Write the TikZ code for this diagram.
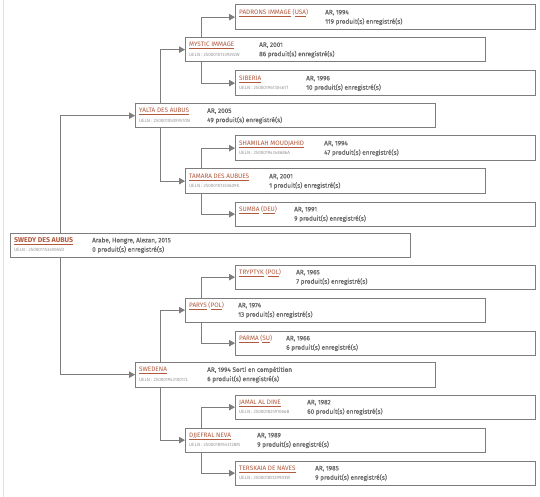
\documentclass[tikz,border=0pt]{standalone}
\usepackage{fontspec}
\setmainfont{Fira Sans}
\newfontfamily\infofont[FakeBold=0.9]{Fira Sans}
\usetikzlibrary{arrows.meta,calc}

\definecolor{namec}{RGB}{178,88,60}
\definecolor{infoc}{RGB}{105,105,105}
\definecolor{uelnc}{RGB}{150,150,150}
\definecolor{linec}{RGB}{125,125,125}

\newcommand\lnk[1]{\underline{#1}}
\newcommand\ueln[1]{{\color{uelnc}\fontsize{4.6}{5}\selectfont UELN : #1}}

% #1 node, #2/#3 top left, #4 width, #5 info column, #6 name, #7 ueln, #8/#9 info lines
\newcommand\horse[9]{%
  \node[hbox,minimum width=#4] (#1) at (#2,#3) {};
  \node[htext] (#1-t) at ([xshift=4pt]#1.west)
    {\begin{tabular}{@{}l@{}l@{}}\makebox[#5pt][l]{\color{namec}#6} & \infofont #8\\
      \makebox[#5pt][l]{#7} & \infofont #9\end{tabular}};
}

\begin{document}
\begin{tikzpicture}[
  x=1pt,y=-1pt,
  hbox/.style={rectangle,draw=linec,line width=0.8pt,anchor=north west,
    minimum height=24.5pt,inner sep=0pt},
  htext/.style={anchor=west,inner sep=0pt,text=infoc,
    font=\fontsize{6.4}{9.3}\selectfont},
  ar/.style={-{Triangle[length=6pt,width=6.5pt]},draw=linec,line width=0.8pt}
]
\useasboundingbox (0,0) rectangle (540,497);
\draw[black!12,line width=0.8pt] (3,0) -- (3,497);

\horse{swedy}{10}{232.5}{400pt}{78}{\textbf{\fontsize{7}{9}\selectfont\lnk{SWEDY DES AUBUS}}}%
  {\ueln{25000115349065D}}{Arabe, Hongre, Alezan, 2015}{0 produit(s) enregistré(s)}

% lignée paternelle
\horse{yalta}{135}{103}{300pt}{68}{\lnk{YALTA DES AUBUS}}%
  {\ueln{25000105099570N}}{AR, 2005}{49 produit(s) enregistré(s)}
\horse{mystic}{185}{37}{300pt}{70}{\lnk{MYSTIC IMMAGE}}%
  {\ueln{25000101339392W}}{AR, 2001}{86 produit(s) enregistré(s)}
\horse{padrons}{235}{4.5}{300pt}{86}{\lnk{PADRONS IMMAGE} (\lnk{USA})}%
  {}{AR, 1994}{119 produit(s) enregistré(s)}
\horse{siberia}{235}{70.5}{300pt}{67}{\lnk{SIBERIA}}%
  {\ueln{25000196730461T}}{AR, 1996}{10 produit(s) enregistré(s)}
\horse{tamara}{185}{168.5}{300pt}{80}{\lnk{TAMARA DES AUBUES}}%
  {\ueln{25000101353609K}}{AR, 2001}{1 produit(s) enregistré(s)}
\horse{shamilah}{235}{135.5}{300pt}{85}{\lnk{SHAMILAH MOUDJAHID}}%
  {\ueln{25000194348686A}}{AR, 1994}{47 produit(s) enregistré(s)}
\horse{sumba}{235}{201.5}{300pt}{55}{\lnk{SUMBA} (\lnk{DEU})}%
  {}{AR, 1991}{9 produit(s) enregistré(s)}

% lignée maternelle
\horse{swedena}{135}{362}{300pt}{68}{\lnk{SWEDENA}}%
  {\ueln{25000194310017L}}{AR, 1994 Sorti en compétition}{6 produit(s) enregistré(s)}
\horse{parys}{185}{297.5}{300pt}{49}{\lnk{PARYS} (\lnk{POL})}%
  {}{AR, 1974}{13 produit(s) enregistré(s)}
\horse{tryptyk}{235}{264.5}{300pt}{57}{\lnk{TRYPTYK} (\lnk{POL})}%
  {}{AR, 1965}{7 produit(s) enregistré(s)}
\horse{parma}{235}{330.5}{300pt}{47}{\lnk{PARMA} (\lnk{SU})}%
  {}{AR, 1966}{6 produit(s) enregistré(s)}
\horse{djjefral}{185}{427.5}{300pt}{68}{\lnk{DJJEFRAL NEVA}}%
  {\ueln{25000189543128M}}{AR, 1989}{9 produit(s) enregistré(s)}
\horse{jamal}{235}{394.5}{300pt}{68}{\lnk{JAMAL AL DINE}}%
  {\ueln{25000182591066B}}{AR, 1982}{60 produit(s) enregistré(s)}
\horse{terskaia}{235}{460.5}{300pt}{76}{\lnk{TERSKAIA DE NAVES}}%
  {\ueln{25000185129903W}}{AR, 1985}{9 produit(s) enregistré(s)}

\draw[ar] ([xshift=50pt]swedy.north west) |- (yalta.west);
\draw[ar] ([xshift=50pt]swedy.south west) |- (swedena.west);
\draw[ar] ([xshift=25pt]yalta.north west) |- (mystic.west);
\draw[ar] ([xshift=25pt]yalta.south west) |- (tamara.west);
\draw[ar] ([xshift=25pt]swedena.north west) |- (parys.west);
\draw[ar] ([xshift=25pt]swedena.south west) |- (djjefral.west);
\foreach \p/\s/\d in {mystic/padrons/siberia,tamara/shamilah/sumba,
                      parys/tryptyk/parma,djjefral/jamal/terskaia}{
  \draw[ar] ([xshift=16pt]\p.north west) |- (\s.west);
  \draw[ar] ([xshift=16pt]\p.south west) |- (\d.west);
}
\end{tikzpicture}
\end{document}
